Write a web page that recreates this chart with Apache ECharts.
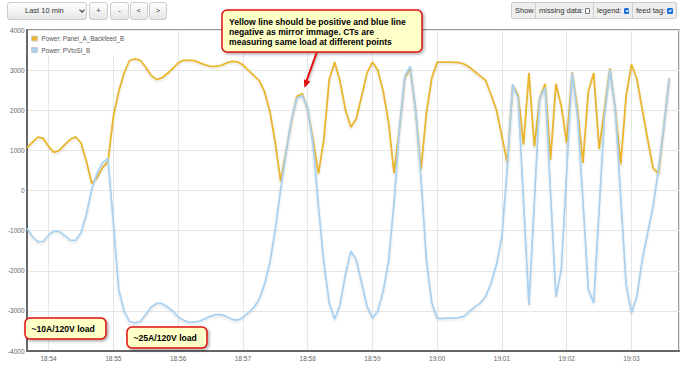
<!DOCTYPE html>
<html>
<head>
<meta charset="utf-8">
<script src="https://cdn.jsdelivr.net/npm/echarts@6.0.0/dist/echarts.min.js"></script>
<style>
  html, body { margin: 0; padding: 0; background: #fff; }
  body { width: 690px; height: 366px; position: relative; overflow: hidden; font-family: "Liberation Sans", Arial, sans-serif; }
  #chart { position: absolute; left: 0; top: 0; width: 690px; height: 366px; }
  .btn { position: absolute; top: 2px; height: 16px; border: 1px solid #ccc; border-radius: 3px;
         background: linear-gradient(#ffffff, #e6e6e6); color: #333; font-size: 7.5px; line-height: 16px;
         text-align: center; box-sizing: content-box; z-index: 5; }
  .chev { position: absolute; left: 72px; top: 5px; width: 3px; height: 3px; border-right: 1.2px solid #333;
          border-bottom: 1.2px solid #333; transform: rotate(45deg); }
  #show { position: absolute; left: 511px; top: 2px; height: 15px; border: 1px solid #ccc; border-radius: 2px;
          background: #eee; display: flex; font-size: 7.5px; color: #333; line-height: 15px; z-index: 5; }
  #show .cell { padding: 0 3px; border-left: 1px solid #ccc; white-space: nowrap; display: flex; align-items: center; }
  #show .cell:first-child { border-left: none; }
  .cb { display: inline-block; width: 4px; height: 4px; margin-left: 2px; border: 0.8px solid #767676; background: #fff; border-radius: 1px; position: relative; }
  .cb.on { background: #1a6fe0; border-color: #1a6fe0; }
  .cb.on::after { content: ""; position: absolute; left: 1.2px; top: 0px; width: 1.2px; height: 2.4px;
                  border-right: 0.9px solid #fff; border-bottom: 0.9px solid #fff; transform: rotate(45deg); }
</style>
</head>
<body>
<div id="chart"></div>
<div class="btn" style="left:7px;width:78px;text-align:left;"><span style="padding-left:17px;">Last 10 min</span><span class="chev"></span></div>
<div class="btn" style="left:89px;width:17px;">+</div>
<div class="btn" style="left:110px;width:17px;">-</div>
<div class="btn" style="left:130px;width:16px;">&lt;</div>
<div class="btn" style="left:149px;width:16px;">&gt;</div>
<div id="show">
  <div class="cell" style="width:17px;">Show</div>
  <div class="cell" style="width:51px;">missing data:<span class="cb"></span></div>
  <div class="cell" style="width:32px;">legend:<span class="cb on"></span></div>
  <div class="cell" style="width:37px;">feed tag:<span class="cb on"></span></div>
</div>
<script>
// ---- data (one reading every 5 s starting 18:53:40) ----
const startTime = new Date(2024, 0, 15, 18, 53, 40).getTime();
const stepMs = 5000;
const seriesNames = ['Power: Panel_A_Backfeed_B', 'Power: PVtoSI_B'];
const panelValues = [
  1070, 1200, 1330, 1300, 1100, 950, 1000, 1145, 1270, 1336,
  1190, 730, 180, 320, 570, 720, 1840, 2470, 2930, 3240,
  3280, 3245, 3070, 2870, 2765, 2805, 2915, 3040, 3180, 3245,
  3245, 3235, 3180, 3130, 3095, 3095, 3120, 3180, 3220, 3205,
  3130, 3000, 2870, 2745, 2470, 1975, 1190, 230, 980, 1725,
  2350, 2415, 2035, 1270, 420, 1270, 2765, 3205, 2720, 2015,
  1585, 1785, 2350, 2930, 3200, 3000, 2470, 1690, 440, 1520,
  2800, 3060, 2000, 520, 1930, 2800, 3200, 3200, 3200, 3195,
  3190, 3150, 3070, 2960, 2850, 2740, 2380, 2000, 1340, 690,
  2640, 2375, 1145, 2930, 1100, 2310, 2660, 770, 2660, 2100,
  1190, 2950, 2020, 690, 2470, 2930, 1040, 2020, 3050, 2020,
  650, 2350, 3140, 2780, 2020, 1270, 560, 420, 1600, 2800
];
const pvValues = [
  -940, -1150, -1275, -1275, -1110, -1010, -1026, -1120, -1237, -1245,
  -1054, -598, 25, 440, 689, 797, -800, -2465, -3005, -3270,
  -3300, -3270, -3090, -2905, -2815, -2815, -2900, -3005, -3145, -3235,
  -3280, -3280, -3255, -3195, -3130, -3095, -3095, -3145, -3210, -3230,
  -3170, -3045, -2920, -2715, -2340, -1800, -970, 25, 940, 1770,
  2305, 2365, 2060, 1145, -390, -1800, -2800, -3210, -2840, -2090,
  -1510, -1720, -2300, -2880, -3180, -3005, -2505, -1760, -310, 1520,
  2850, 3100, 2020, 300, -1720, -2800, -3180, -3190, -3180, -3180,
  -3170, -3130, -3005, -2900, -2800, -2630, -2300, -1840, -1140, 600,
  2640, 2300, -280, -2860, -280, 2300, 2560, -50, -2650, -1970,
  500, 2930, 1850, -250, -2460, -2800, -500, 1850, 3010, 2020,
  -160, -2340, -3050, -2630, -1720, -1050, -390, 520, 1600, 2800
];
const yTicks = { min: -4000, max: 4000, interval: 1000 };
const xRange = { min: startTime, max: startTime + 604000 };

const toPairs = vals => vals.map((v, i) => [startTime + i * stepMs, v]);

const chart = echarts.init(document.getElementById('chart'), null, { renderer: 'svg' });

const boxStyle = {
  fill: '#ffffc8', stroke: '#e01010', lineWidth: 1.5,
  shadowBlur: 3, shadowColor: 'rgba(0,0,0,0.35)', shadowOffsetX: 1.5, shadowOffsetY: 1.5
};
const noteFont = 'bold 8.6px "Liberation Sans", Arial, sans-serif';

chart.setOption({
  animation: false,
  grid: { left: 27, right: 11, top: 30, bottom: 15, show: true, borderColor: '#777', borderWidth: 1.5, backgroundColor: 'transparent' },
  legend: {
    data: seriesNames,
    orient: 'vertical', left: 29, top: 33,
    icon: 'rect', itemWidth: 6, itemHeight: 5, itemGap: 4.5,
    backgroundColor: 'rgba(255,255,255,0.9)', padding: [2, 4, 2, 2],
    itemStyle: { borderColor: '#ccc', borderWidth: 1 },
    textStyle: { fontSize: 6.3, color: '#545454', fontFamily: '"Liberation Sans", Arial, sans-serif', lineHeight: 7, padding: [0, 0, 0, -1] },
    selectedMode: false
  },
  xAxis: {
    type: 'time', min: xRange.min, max: xRange.max,
    minInterval: 60000, maxInterval: 60000,
    axisLine: { show: true, onZero: false, lineStyle: { color: '#666', width: 2 } },
    axisTick: { show: false },
    splitLine: { show: true, lineStyle: { color: '#e6e6e6', width: 1 } },
    axisLabel: {
      formatter: '{HH}:{mm}', fontSize: 6.5, color: '#666', margin: 4,
      fontFamily: '"Liberation Sans", Arial, sans-serif',
      showMinLabel: false, showMaxLabel: false
    }
  },
  yAxis: {
    type: 'value', min: yTicks.min, max: yTicks.max, interval: yTicks.interval,
    axisLine: { show: true, onZero: false, lineStyle: { color: '#666', width: 2 } },
    axisTick: { show: false },
    splitLine: { show: true, lineStyle: { color: '#e6e6e6', width: 1 } },
    axisLabel: {
      formatter: v => String(v), fontSize: 6.5, color: '#666', margin: 2.5,
      fontFamily: '"Liberation Sans", Arial, sans-serif'
    }
  },
  series: [
    {
      name: seriesNames[0], type: 'line', data: toPairs(panelValues),
      showSymbol: false, symbol: 'none', color: '#e9b62f',
      lineStyle: { width: 1.8, color: '#e9b62f', shadowColor: 'rgba(0,0,0,0.12)', shadowBlur: 2, shadowOffsetY: 1.5 }
    },
    {
      name: seriesNames[1], type: 'line', data: toPairs(pvValues),
      showSymbol: false, symbol: 'none', color: '#aad2f0',
      lineStyle: { width: 1.8, color: '#aad2f0', shadowColor: 'rgba(0,0,0,0.12)', shadowBlur: 2, shadowOffsetY: 1.5 }
    }
  ],
  graphic: [
    { type: 'rect', z: 100, shape: { x: 222, y: 10, width: 200, height: 42, r: 5 }, style: boxStyle },
    { type: 'text', z: 101, x: 229, y: 16.5, style: {
        text: 'Yellow line should be positive and blue line\nnegative as mirror immage. CTs are\nmeasuring same load at different points',
        font: noteFont, fill: '#000', lineHeight: 10, align: 'left', verticalAlign: 'top' } },
    { type: 'line', z: 100, shape: { x1: 316.5, y1: 53, x2: 306.5, y2: 81 },
      style: { stroke: '#e01010', lineWidth: 2, shadowBlur: 2, shadowColor: 'rgba(0,0,0,0.3)', shadowOffsetX: 1, shadowOffsetY: 1 } },
    { type: 'polygon', z: 100, shape: { points: [[304.5, 88], [310.4, 81.5], [303.8, 79.3]] },
      style: { fill: '#e01010' } },
    { type: 'rect', z: 100, shape: { x: 25, y: 318, width: 81, height: 21, r: 5 }, style: boxStyle },
    { type: 'text', z: 101, x: 31.5, y: 329, style: {
        text: '~10A/120V load', font: noteFont, fill: '#000', align: 'left', verticalAlign: 'middle' } },
    { type: 'rect', z: 100, shape: { x: 127, y: 327, width: 80, height: 21, r: 5 }, style: boxStyle },
    { type: 'text', z: 101, x: 133.5, y: 338, style: {
        text: '~25A/120V load', font: noteFont, fill: '#000', align: 'left', verticalAlign: 'middle' } }
  ]
});
</script>
</body>
</html>
